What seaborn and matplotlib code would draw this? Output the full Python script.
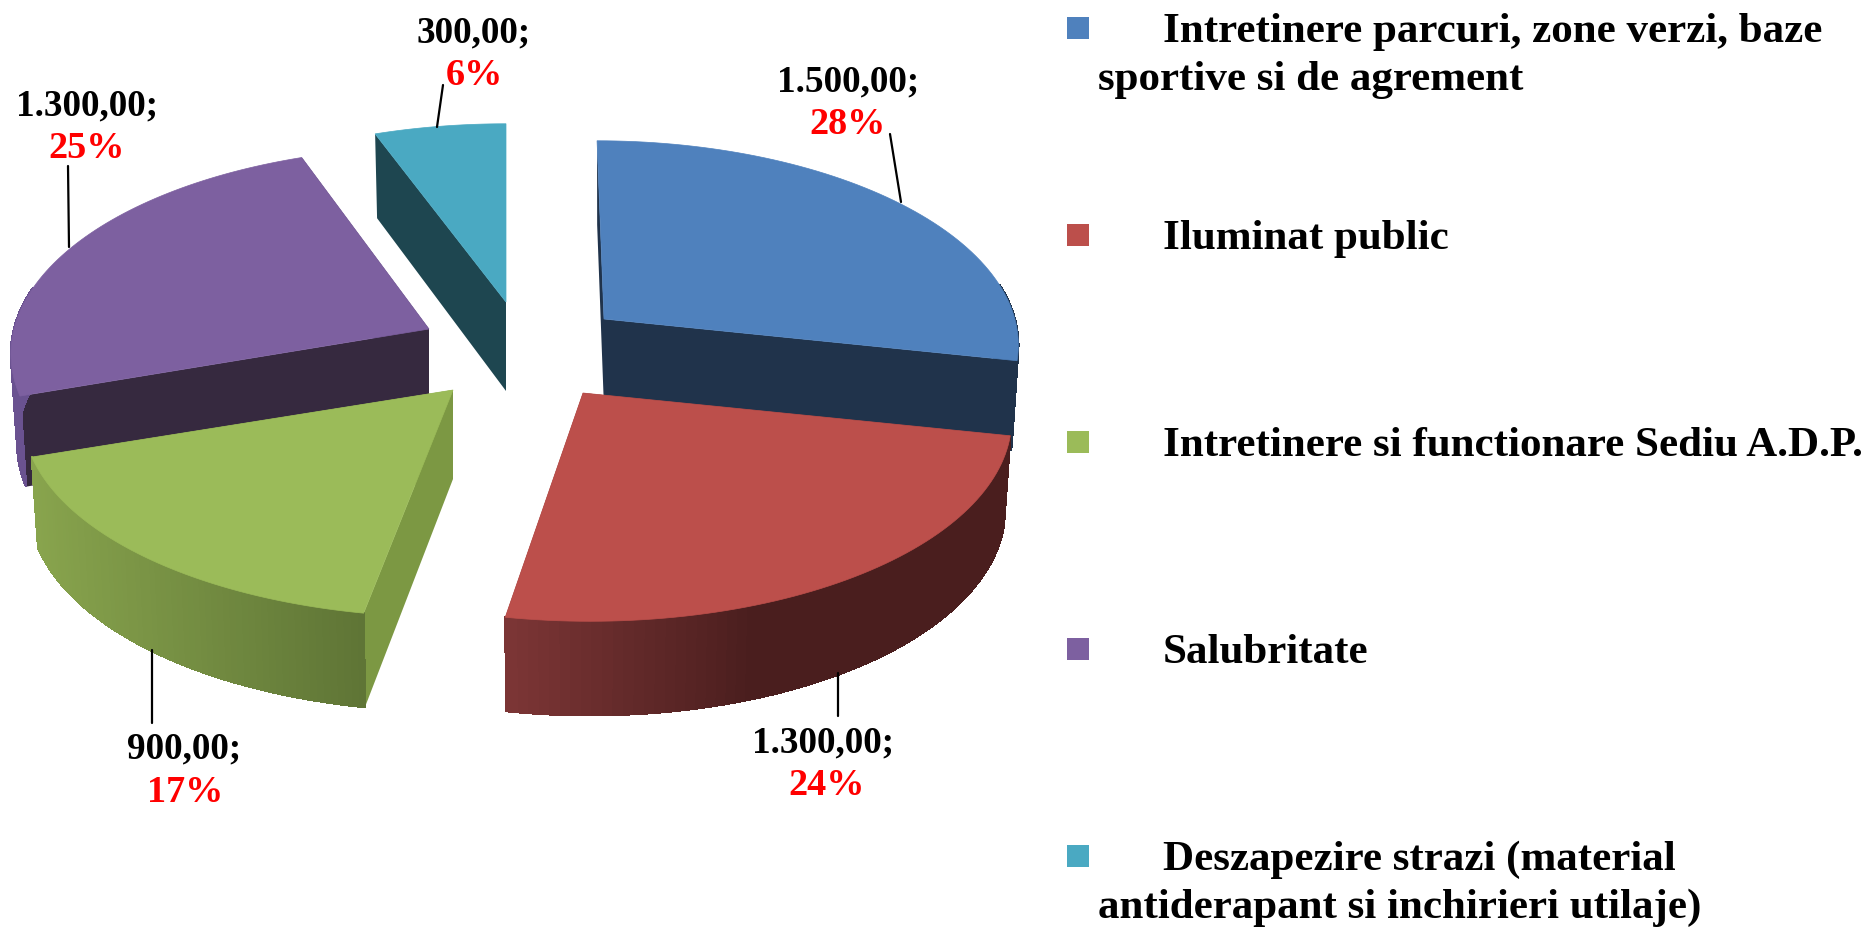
import numpy as np
import seaborn as sns
import matplotlib.pyplot as plt
from matplotlib.colors import LinearSegmentedColormap
from matplotlib.patches import Rectangle

# slices, clockwise from the top
values = [1500, 1300, 900, 1300, 300]
value_labels = ['1.500,00;', '1.300,00;', '900,00;', '1.300,00;', '300,00;']
percent_labels = ['28%', '24%', '17%', '25%', '6%']
legend_lines = [
    ['Intretinere parcuri, zone verzi, baze', 'sportive si de agrement'],
    ['Iluminat public'],
    ['Intretinere si functionare Sediu A.D.P.'],
    ['Salubritate'],
    ['Deszapezire strazi (material', 'antiderapant si inchirieri utilaje)'],
]

top_colors = ['#4f81bd', '#bc4f4b', '#9bbb59', '#7d60a0', '#4aa9c2']
cut_colors = ['#20334b', '#4f2020', '#7c9843', '#36293f', '#1e4650']
wall_left = ['#20334b', '#7d3636', '#88a44d', '#6a5290', '#1e4650']
wall_right = ['#20334b', '#4a1e1e', '#5f7536', '#6a5290', '#1e4650']

# layout, in pixels of the output picture
apex = [(604, 319), (583, 393), (453, 390), (429, 329), (506, 302)]
shear = [0.039, 0.03, -0.02, -0.021, 0]
r_scale = [0.99, 1.025, 1.03, 1.0, 1.0]
ry_scale = [1.0, 1.025, 1.02, 1.02, 1.0]
label_pos = [(848, 91, 134), (823, 752, 795), (184, 758, 802), (87, 115, 158), (474, 42, 85)]
pct_x = [848, 827, 185, 87, 474]
leaders = [((890, 134), (901, 202)), ((838, 673), (838, 716)), ((152, 650), (152, 723)),
           ((68, 166), (69, 247)), ((443, 85), (437, 127))]
R = 415
RY = 198
PERSP = 0.111
DEPTH = 89
BOTTOM_SCALE = 0.985

sns.set_theme(style='white')
plt.rcParams['font.family'] = ['Liberation Serif', 'DejaVu Sans']
plt.rcParams['font.weight'] = 'bold'

palette = sns.color_palette(top_colors)

fig = plt.figure(figsize=(18.69, 9.27), dpi=100, facecolor='white')
ax = fig.add_axes([0, 0, 1, 1])
ax.set_xlim(0, 1869)
ax.set_ylim(927, 0)
ax.axis('off')


def top_point(i, theta):
    z = np.cos(theta)
    s = 1 / (1 + PERSP * z)
    dx = R * r_scale[i] * np.sin(theta) * s
    dy = -RY * ry_scale[i] * z * s
    return apex[i][0] + dx + shear[i] * dy, apex[i][1] + dy


def bottom_point(i, theta):
    x, y = top_point(i, theta)
    x = apex[i][0] + (x - apex[i][0]) * BOTTOM_SCALE
    return x, y + DEPTH * (1 - 0.056 * np.cos(theta))


def draw_slice(i, start, end):
    ax_x, ax_y = apex[i]
    bottom_apex = (ax_x, ax_y + DEPTH)
    thetas = np.linspace(start, end, 70)

    # flat cut faces first, the top covers what should not show
    for th in [start, end]:
        p1 = top_point(i, th)
        p2 = bottom_point(i, th)
        ax.fill([ax_x, p1[0], p2[0], bottom_apex[0]], [ax_y, p1[1], p2[1], bottom_apex[1]],
                color=cut_colors[i], lw=0, zorder=i_order[i])

    # outer wall, small strips so it can carry the gradient
    cmap = LinearSegmentedColormap.from_list('wall', [wall_left[i], wall_right[i]])
    if i == 1:
        cmap = LinearSegmentedColormap.from_list('wall', [wall_left[i], wall_right[i], wall_right[i]])
    xs = [top_point(i, t)[0] for t in thetas]
    for a, b in zip(thetas[:-1], thetas[1:]):
        # the back of the wall is hidden anyway
        if np.cos(a) > 0.2:
            continue
        p1, p2 = top_point(i, a), top_point(i, b)
        p3, p4 = bottom_point(i, b), bottom_point(i, a)
        t = (p1[0] - min(xs)) / (max(xs) - min(xs))
        ax.fill([p1[0], p2[0], p3[0], p4[0]], [p1[1], p2[1], p3[1], p4[1]],
                color=cmap(t), lw=1.0, antialiased=False, zorder=i_order[i])

    # top face
    outline = [top_point(i, t) for t in thetas]
    ax.fill([ax_x] + [p[0] for p in outline], [ax_y] + [p[1] for p in outline],
            color=palette[i], lw=0.5, zorder=i_order[i] + 0.5)


# back to front: aqua, blue, purple, green, red
i_order = {4: 1, 0: 2, 3: 3, 2: 4, 1: 5}
angles = np.cumsum([0] + values) / sum(values) * 2 * np.pi
for i in i_order:
    draw_slice(i, angles[i], angles[i + 1])

for (p1, p2) in leaders:
    ax.plot([p1[0], p2[0]], [p1[1], p2[1]], color='black', lw=1.6, zorder=8)

for i in range(len(values)):
    x, y1, y2 = label_pos[i]
    ax.text(x, y1, value_labels[i], ha='center', va='baseline', fontsize=26.8, color='black', zorder=9)
    ax.text(pct_x[i], y2, percent_labels[i], ha='center', va='baseline', fontsize=27.5, color='#ff0000', zorder=9)

# legend
for i, lines in enumerate(legend_lines):
    y_box = 17 + 207 * i
    ax.add_patch(Rectangle((1067, y_box), 22, 22, color=palette[i], lw=0))
    ax.text(1163, y_box + 25, lines[0], ha='left', va='baseline', fontsize=31, color='black')
    if len(lines) > 1:
        ax.text(1098, y_box + 73, lines[1], ha='left', va='baseline', fontsize=31, color='black')

fig.savefig('out.png', dpi=100)
